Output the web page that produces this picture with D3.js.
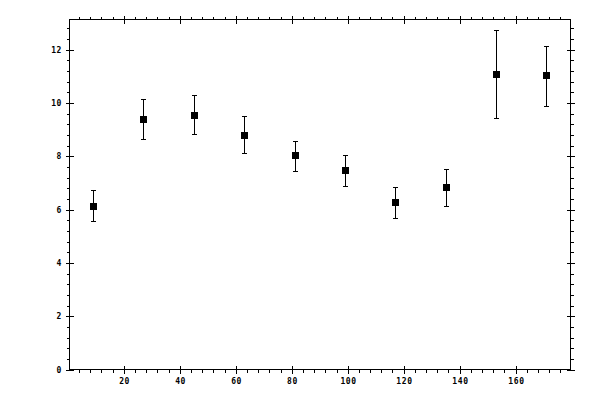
<!DOCTYPE html>
<html>
<head>
<meta charset="utf-8">
<script src="https://cdn.jsdelivr.net/npm/d3@7"></script>
<style>
  body { margin: 0; background: #fff; }
  svg { display: block; }
  text { font-family: "DejaVu Sans Mono", monospace; font-size: 8px; font-weight: bold; letter-spacing: 0.6px; fill: #000; }
</style>
</head>
<body>
<div id="chart"></div>
<script>
const xValues = [9, 27, 45, 63, 81, 99, 117, 135, 153, 171];
const yValues = [6.12, 9.41, 9.56, 8.81, 8.03, 7.47, 6.27, 6.83, 11.07, 11.03];
const yUpper = [6.72, 10.16, 10.31, 9.50, 8.58, 8.03, 6.85, 7.53, 12.74, 12.15];
const yLower = [5.56, 8.66, 8.85, 8.14, 7.43, 6.90, 5.67, 6.15, 9.42, 9.87];

const xMajorTicks = [20, 40, 60, 80, 100, 120, 140, 160];
const xMinorTicks = d3.range(4, 180, 4).filter((v) => v % 20 !== 0);
const yMajorTicks = [0, 2, 4, 6, 8, 10, 12];
const yMinorTicks = d3.range(0.4, 13.1, 0.4).filter((v) => Math.abs(v / 2 - Math.round(v / 2)) > 0.01);

const width = 600;
const height = 400;
const plotLeft = 69.5;
const plotRight = 570.5;
const plotTop = 19.5;
const plotBottom = 369.5;

const svg = d3.select('#chart').append('svg')
  .attr('width', width)
  .attr('height', height);

const x = d3.scaleLinear().domain([0.6, 179.6]).range([plotLeft, plotRight]);
const y = d3.scaleLinear().domain([0, 13.13]).range([plotBottom, plotTop]);

// draws one side of the frame: minor ticks outside, major ticks crossing the line
function drawAxis(axisFn, scale, transform, majors, minors, labels) {
  const g = svg.append('g').attr('transform', transform);
  g.call(axisFn(scale).tickValues(minors).tickSize(3).tickFormat(''));
  const maj = svg.append('g').attr('transform', transform);
  maj.call(axisFn(scale).tickValues(majors).tickSize(4)
    .tickFormat(labels ? d3.format('d') : ''));
  const horizontal = axisFn === d3.axisBottom || axisFn === d3.axisTop;
  maj.selectAll('.tick line')
    .attr(horizontal ? 'y1' : 'x1', -4)
    .attr(horizontal ? 'y2' : 'x2', 4);
  [g, maj].forEach((s) => {
    s.selectAll('.domain').remove();
    s.selectAll('line').attr('stroke', '#000').attr('shape-rendering', 'crispEdges');
    s.attr('font-family', null).attr('font-size', null);
  });
  return maj;
}

const bx = drawAxis(d3.axisBottom, x, `translate(0,${plotBottom})`, xMajorTicks, xMinorTicks, true);
bx.selectAll('text').attr('y', 9).attr('dy', '0.71em').attr('dx', 0.3);
drawAxis(d3.axisTop, x, `translate(0,${plotTop})`, xMajorTicks, xMinorTicks, false);
const ly = drawAxis(d3.axisLeft, y, `translate(${plotLeft},0)`, yMajorTicks, yMinorTicks, true);
ly.selectAll('text').attr('x', -7.5);
drawAxis(d3.axisRight, y, `translate(${plotRight},0)`, yMajorTicks, yMinorTicks, false);

// frame
svg.append('rect')
  .attr('x', plotLeft)
  .attr('y', plotTop)
  .attr('width', plotRight - plotLeft)
  .attr('height', plotBottom - plotTop)
  .attr('fill', 'none')
  .attr('stroke', '#000')
  .attr('shape-rendering', 'crispEdges');

const points = xValues.map((v, i) => ({
  x: v, y: yValues[i], hi: yUpper[i], lo: yLower[i],
}));

const marks = svg.append('g').attr('shape-rendering', 'crispEdges');

marks.selectAll('.bar')
  .data(points)
  .enter()
  .append('path')
  .attr('class', 'bar')
  .attr('fill', 'none')
  .attr('stroke', '#000')
  .attr('d', (d) => {
    const cx = Math.round(x(d.x)) + 0.5;
    const y1 = Math.round(y(d.hi)) + 0.5;
    const y2 = Math.round(y(d.lo)) + 0.5;
    return `M${cx},${y1}V${y2}M${cx - 2.5},${y1}H${cx + 2.5}M${cx - 2.5},${y2}H${cx + 2.5}`;
  });

marks.selectAll('.pt')
  .data(points)
  .enter()
  .append('rect')
  .attr('class', 'pt')
  .attr('x', (d) => Math.round(x(d.x)) - 3)
  .attr('y', (d) => Math.round(y(d.y)) - 3)
  .attr('width', 7)
  .attr('height', 7)
  .attr('fill', '#000');
</script>
</body>
</html>
